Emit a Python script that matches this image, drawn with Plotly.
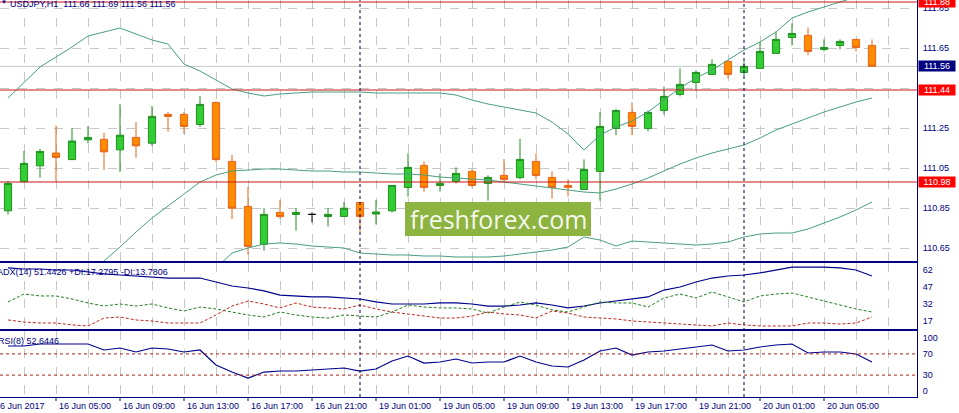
import plotly.graph_objects as go
import pandas as pd

# ---------------- data ----------------
times = list(pd.date_range("2017-06-16 02:00", "2017-06-16 23:00", freq="h")) + \
        list(pd.date_range("2017-06-19 00:00", "2017-06-20 08:00", freq="h"))
idx = list(range(len(times)))

open_ = [110.836, 110.982, 111.061, 111.125, 111.092, 111.191, 111.193, 111.141, 111.203, 111.174,
         111.318, 111.318, 111.268, 111.378, 111.083, 110.858, 110.668, 110.828, 110.818, 110.818,
         110.808, 110.808, 110.878, 110.820, 110.836, 110.953, 111.063, 110.963, 110.983, 111.033,
         110.973, 111.013, 111.002, 111.083, 111.003, 110.963, 110.943, 111.033, 111.248, 111.328,
         111.248, 111.338, 111.418, 111.478, 111.518, 111.583, 111.528, 111.548, 111.623, 111.703,
         111.713, 111.643, 111.663, 111.693, 111.663]
high = [110.986, 111.135, 111.145, 111.261, 111.250, 111.260, 111.226, 111.370, 111.280, 111.360,
        111.330, 111.330, 111.410, 111.382, 111.115, 110.955, 110.849, 110.890, 110.849, 110.828,
        110.849, 110.880, 110.880, 110.890, 110.963, 111.123, 111.083, 111.023, 111.053, 111.043,
        111.013, 111.095, 111.195, 111.123, 111.033, 110.993, 111.093, 111.330, 111.346, 111.378,
        111.338, 111.458, 111.548, 111.538, 111.593, 111.583, 111.583, 111.678, 111.733, 111.773,
        111.753, 111.693, 111.693, 111.693, 111.693]
low = [110.817, 110.977, 111.001, 110.982, 111.092, 111.174, 111.040, 111.031, 111.101, 111.161,
       111.231, 111.221, 111.256, 111.082, 110.795, 110.617, 110.637, 110.797, 110.737, 110.778,
       110.758, 110.808, 110.728, 110.768, 110.828, 110.907, 110.932, 110.932, 110.973, 110.953,
       110.887, 110.983, 110.993, 110.993, 110.897, 110.907, 110.943, 110.887, 111.214, 111.214,
       111.233, 111.318, 111.408, 111.438, 111.518, 111.498, 111.508, 111.548, 111.623, 111.663,
       111.613, 111.633, 111.643, 111.633, 111.558]
close = [110.973, 111.073, 111.133, 111.103, 111.185, 111.203, 111.131, 111.214, 111.161, 111.308,
         111.308, 111.258, 111.368, 111.092, 110.849, 110.658, 110.818, 110.807, 110.828, 110.818,
         110.818, 110.849, 110.808, 110.830, 110.963, 111.053, 110.953, 110.973, 111.023, 110.963,
         111.003, 110.993, 111.093, 111.013, 110.953, 110.953, 111.043, 111.258, 111.337, 111.258,
         111.328, 111.408, 111.468, 111.528, 111.568, 111.518, 111.558, 111.633, 111.693, 111.723,
         111.633, 111.653, 111.683, 111.653, 111.558]

bb_upper = [111.400, 111.480, 111.555, 111.605, 111.655, 111.710, 111.730, 111.750, 111.720, 111.690,
            111.670, 111.570, 111.535, 111.490, 111.445, 111.425, 111.410, 111.420, 111.425, 111.430,
            111.430, 111.430, 111.430, 111.425, 111.425, 111.425, 111.425, 111.425, 111.415, 111.390,
            111.370, 111.355, 111.340, 111.325, 111.280, 111.220, 111.140, 111.215, 111.255, 111.285,
            111.330, 111.390, 111.450, 111.500, 111.540, 111.590, 111.640, 111.680, 111.730, 111.800,
            111.830, 111.855, 111.880, 111.905, 111.930]
bb_middle = [None, None, None, None, None, 110.515, 110.585, 110.655, 110.730, 110.800,
             110.860, 110.920, 110.980, 111.015, 111.035, 111.040, 111.045, 111.045, 111.040, 111.035,
             111.035, 111.030, 111.030, 111.025, 111.020, 111.020, 111.015, 111.005, 111.000, 110.995,
             110.990, 110.980, 110.970, 110.960, 110.950, 110.940, 110.930, 110.925, 110.945, 110.970,
             111.000, 111.035, 111.070, 111.100, 111.125, 111.145, 111.165, 111.200, 111.240, 111.270,
             111.300, 111.330, 111.355, 111.380, 111.400]
bb_lower = [None, None, None, None, None, None, None, None, None, None,
            None, None, None, 110.550, 110.625, 110.650, 110.670, 110.675, 110.670, 110.660,
            110.655, 110.650, 110.625, 110.620, 110.615, 110.615, 110.610, 110.610, 110.605, 110.605,
            110.605, 110.610, 110.620, 110.630, 110.640, 110.655, 110.705, 110.690, 110.660, 110.685,
            110.680, 110.675, 110.670, 110.665, 110.670, 110.680, 110.705, 110.720, 110.725, 110.725,
            110.745, 110.775, 110.805, 110.840, 110.880]

adx = [63.8, 62.9, 62.9, 62.0, 62.0, 60.2, 58.5, 57.6, 56.7, 55.8,
       54.9, 54.9, 54.9, 51.4, 47.9, 46.1, 43.5, 39.9, 39.1, 38.2,
       38.2, 37.3, 36.4, 33.8, 32.0, 32.0, 32.0, 32.9, 32.9, 32.0,
       30.2, 30.2, 31.1, 32.9, 31.1, 28.5, 30.2, 32.9, 34.6, 36.4,
       38.2, 44.3, 47.0, 51.4, 54.9, 56.7, 57.6, 59.4, 62.0, 64.6,
       64.6, 64.6, 63.8, 62.0, 56.7]
plus_di = [33.8, 40.8, 39.1, 39.1, 36.4, 32.9, 30.2, 32.0, 30.2, 32.0,
           28.5, 25.8, 29.3, 27.6, 24.9, 22.3, 20.5, 24.9, 22.3, 20.5,
           19.6, 22.3, 21.4, 20.5, 24.9, 31.1, 29.3, 28.5, 28.5, 27.6,
           24.0, 29.3, 33.8, 31.1, 26.7, 24.9, 29.3, 33.8, 32.9, 32.9,
           29.3, 37.3, 40.8, 37.3, 42.6, 38.2, 33.8, 39.1, 40.8, 41.7,
           38.2, 34.6, 31.1, 27.6, 24.9]
minus_di = [17.9, 16.1, 15.2, 15.2, 13.5, 12.6, 19.6, 20.5, 17.9, 17.0,
            15.2, 15.2, 15.2, 22.3, 30.2, 34.6, 32.0, 28.5, 32.9, 29.3,
            28.5, 27.6, 31.1, 27.6, 24.9, 23.2, 21.4, 19.6, 19.6, 21.4,
            24.9, 23.2, 22.3, 19.6, 25.8, 24.0, 20.5, 19.6, 18.8, 17.0,
            16.1, 15.2, 14.3, 13.5, 12.6, 15.2, 13.5, 12.6, 12.6, 12.6,
            15.2, 15.2, 14.3, 15.2, 20.5]
rsi = [84.9, 84.9, 88.7, 88.7, 88.7, 88.7, 77.4, 81.1, 73.6, 81.1,
       79.2, 73.6, 77.4, 49.1, 35.8, 24.5, 35.8, 37.7, 37.7, 39.6,
       41.5, 43.4, 37.7, 41.5, 56.6, 66.0, 52.8, 54.7, 60.4, 52.8,
       54.7, 54.7, 66.0, 54.7, 47.2, 45.3, 58.5, 75.5, 81.1, 67.9,
       73.6, 75.5, 79.2, 83.0, 86.8, 75.5, 77.4, 83.0, 86.8, 88.7,
       71.7, 73.6, 73.6, 69.8, 54.7]

price_ticks = [111.85, 111.65, 111.45, 111.25, 111.05, 110.85, 110.65]
adx_ticks = [62, 47, 32, 17]
rsi_ticks = [100, 70, 30, 0]
rsi_levels = [70, 30]
red_levels = [111.88, 111.44, 110.98]

tick_pos = [-1, 3, 7, 11, 15, 19, 23, 27, 31, 35, 39, 43, 47, 51]
tick_text = ["16 Jun 2017", "16 Jun 05:00", "16 Jun 09:00", "16 Jun 13:00", "16 Jun 17:00",
             "16 Jun 21:00", "19 Jun 01:00", "19 Jun 05:00", "19 Jun 09:00", "19 Jun 13:00",
             "19 Jun 17:00", "19 Jun 21:00", "20 Jun 01:00", "20 Jun 05:00"]

title_text = "USDJPY,H1  111.66 111.69 111.56 111.56"
adx_text = "ADX(14) 51.4426 +DI:17.2795 -DI:13.7806"
rsi_text = "RSI(8) 52.6446"
watermark = "freshforex.com"

# ---------------- style ----------------
FONT = "Liberation Sans, Arial, sans-serif"
NAVY = "#000080"
GRID = "#c8c8c8"
RED = "#c8161d"
BB = "#4a9e7e"
PW, PH = 917.0, 397.0
xr = [-0.5, 56.8125]


def px(x):
    return x / PW


def py(y):
    return 1 - y / PH


def xpaper(v):
    return (v - xr[0]) / (xr[1] - xr[0])


fig = go.Figure()

doji = [o == c for o, c in zip(open_, close)]
reg = [i for i in idx if not doji[i]]
dj = [i for i in idx if doji[i]]

fig.add_trace(go.Candlestick(
    x=reg, open=[open_[i] for i in reg], high=[high[i] for i in reg],
    low=[low[i] for i in reg], close=[close[i] for i in reg],
    increasing=dict(line=dict(color="#1f8f1f", width=1), fillcolor="#32cd32"),
    decreasing=dict(line=dict(color="#e8641a", width=1), fillcolor="#ff8c00"),
    whiskerwidth=0, xaxis="x", yaxis="y", hoverinfo="skip"))
fig.add_trace(go.Candlestick(
    x=dj, open=[open_[i] for i in dj], high=[high[i] for i in dj],
    low=[low[i] for i in dj], close=[close[i] for i in dj],
    increasing=dict(line=dict(color="black", width=1), fillcolor="black"),
    decreasing=dict(line=dict(color="black", width=1), fillcolor="black"),
    whiskerwidth=0, xaxis="x", yaxis="y", hoverinfo="skip"))

for band in (bb_upper, bb_middle, bb_lower):
    fig.add_trace(go.Scatter(x=idx, y=band, mode="lines", line=dict(color=BB, width=1),
                             xaxis="x", yaxis="y", hoverinfo="skip", connectgaps=False))

fig.add_trace(go.Scatter(x=idx, y=adx, mode="lines", line=dict(color="#00008b", width=1.2),
                         xaxis="x2", yaxis="y2"))
fig.add_trace(go.Scatter(x=idx, y=plus_di, mode="lines",
                         line=dict(color="#1f7f1f", width=1, dash="3px,2px"), xaxis="x2", yaxis="y2"))
fig.add_trace(go.Scatter(x=idx, y=minus_di, mode="lines",
                         line=dict(color="#c0281e", width=1, dash="3px,2px"), xaxis="x2", yaxis="y2"))
fig.add_trace(go.Scatter(x=idx, y=rsi, mode="lines", line=dict(color="#00008b", width=1.2),
                         xaxis="x3", yaxis="y3"))

grid_pos = list(range(-1, 58, 2))

xbase = dict(range=xr, tickmode="array", tickvals=grid_pos, showticklabels=False, ticks="",
             showgrid=True, gridcolor=GRID, griddash="dash", gridwidth=1, zeroline=False,
             showline=True, linecolor=NAVY, linewidth=1, fixedrange=True)
ybase = dict(side="right", tickmode="array", zeroline=False, showline=True, linecolor=NAVY,
             linewidth=1, ticks="", tickfont=dict(color=NAVY, size=9, family=FONT),
             ticklabelstandoff=3, fixedrange=True)

fig.update_layout(
    width=959, height=413, margin=dict(l=0, r=42, t=0, b=16, autoexpand=False),
    paper_bgcolor="white", plot_bgcolor="white", showlegend=False, boxgap=0.36,
    xaxis=dict(xbase, anchor="y", rangeslider=dict(visible=False)),
    xaxis2=dict(xbase, anchor="y2", matches="x", mirror=True),
    xaxis3=dict(xbase, anchor="y3", matches="x", mirror=True),
    yaxis=dict(ybase, domain=[py(261), 1], range=[111.89 - 261 * 0.005, 111.89], anchor="x",
               tickvals=price_ticks, ticktext=[f"{v:.2f}" for v in price_ticks],
               showgrid=True, gridcolor=GRID, griddash="dash"),
    yaxis2=dict(ybase, domain=[py(329), py(263)], range=[62 - 59 / 1.133, 62 + 7 / 1.133],
                anchor="x2", tickvals=adx_ticks, ticktext=[str(v) for v in adx_ticks], showgrid=False),
    yaxis3=dict(ybase, domain=[0, py(331)], range=[-6 / 0.53, 60 / 0.53], anchor="x3",
                tickvals=rsi_ticks, ticktext=[str(v) for v in rsi_ticks], showgrid=False),
)

shapes = []
# bid line
shapes.append(dict(type="line", xref="x domain", yref="y", x0=0, x1=1, y0=close[-1], y1=close[-1],
                   line=dict(color="#c8c8c8", width=1), layer="below"))
for lvl in red_levels:
    shapes.append(dict(type="line", xref="x domain", yref="y", x0=0, x1=1, y0=lvl, y1=lvl,
                       line=dict(color=RED, width=1)))
for lvl in rsi_levels:
    shapes.append(dict(type="line", xref="x3 domain", yref="y3", x0=0, x1=1, y0=lvl, y1=lvl,
                       line=dict(color="#b0201a", width=1, dash="3px,3px")))
# day separators
for i in idx[1:]:
    if times[i].date() != times[i - 1].date():
        shapes.append(dict(type="line", xref="x", yref="paper", x0=i, x1=i, y0=0, y1=1,
                           line=dict(color="#000050", width=1, dash="3px,3px")))
# bottom tick marks
for p in tick_pos:
    shapes.append(dict(type="line", xref="paper", yref="paper", x0=xpaper(p), x1=xpaper(p),
                       y0=0, y1=-4 / PH, line=dict(color=NAVY, width=1)))
# watermark box
shapes.append(dict(type="rect", xref="paper", yref="paper", x0=px(405), x1=px(591),
                   y0=py(236), y1=py(202), fillcolor="#8db340", line=dict(width=0), layer="above"))
fig.update_layout(shapes=shapes)

ann = []
ann.append(dict(xref="paper", yref="paper", x=px(498), y=py(219), text=watermark, showarrow=False,
                font=dict(family="Open Sans, sans-serif", size=25, color="rgba(255,255,255,0.93)"),
                xanchor="center", yanchor="middle"))
ann.append(dict(xref="paper", yref="paper", x=px(8), y=py(3.5), text=title_text, showarrow=False,
                font=dict(family=FONT, size=9, color=NAVY), xanchor="left", yanchor="middle"))
ann.append(dict(xref="paper", yref="paper", x=px(-1), y=py(2), text="▼", showarrow=False,
                font=dict(family=FONT, size=6, color=NAVY), xanchor="left", yanchor="middle"))
ann.append(dict(xref="paper", yref="paper", x=px(-5), y=py(272), text=adx_text, showarrow=False,
                font=dict(family=FONT, size=9, color=NAVY), xanchor="left", yanchor="middle"))
ann.append(dict(xref="paper", yref="paper", x=px(-4), y=py(341), text=rsi_text, showarrow=False,
                font=dict(family=FONT, size=9, color=NAVY), xanchor="left", yanchor="middle"))
for p, t in zip(tick_pos, tick_text):
    ann.append(dict(xref="paper", yref="paper", x=xpaper(p), y=py(406), text=t, showarrow=False,
                    xshift=1, font=dict(family=FONT, size=9, color=NAVY),
                    xanchor="left", yanchor="middle"))
for lvl in red_levels:
    ann.append(dict(xref="paper", yref="y", x=1, y=lvl, text=f"{lvl:.2f}", showarrow=False, xshift=1,
                    xanchor="left", yanchor="middle", bgcolor="#ff0000", width=36, height=10,
                    borderpad=0, font=dict(family=FONT, size=9, color="white")))
ann.append(dict(xref="paper", yref="y", x=1, y=close[-1], text=f"{close[-1]:.2f}", showarrow=False,
                xshift=1, xanchor="left", yanchor="middle", bgcolor=NAVY, width=36, height=10,
                borderpad=0, font=dict(family=FONT, size=9, color="white")))
fig.update_layout(annotations=ann)

fig.write_html("out.html", config={"displayModeBar": False},
               post_script="document.body.style.margin='0px';document.body.style.overflow='hidden';")
